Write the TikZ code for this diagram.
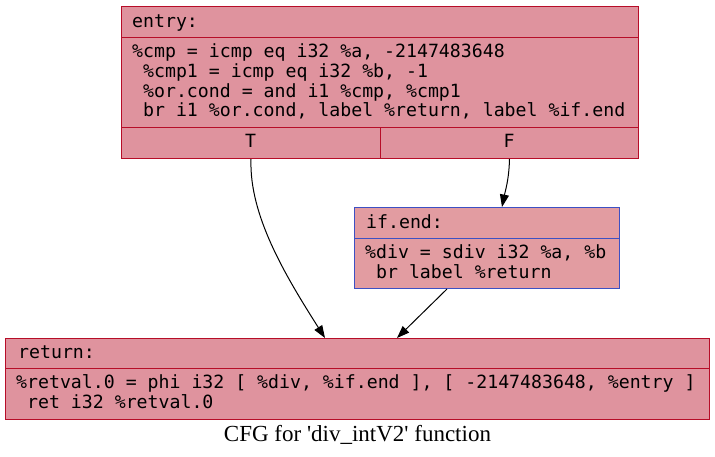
\documentclass[tikz,border=0pt]{standalone}
\usepackage{fontspec}
\setmainfont{Liberation Serif}
\newfontfamily\llvmfont{DejaVu Sans Mono}
\usetikzlibrary{arrows.meta, positioning}
\definecolor{hotfill}{RGB}{223,147,158}
\definecolor{warmfill}{RGB}{226,156,161}
\definecolor{hotline}{HTML}{B70D28}
\definecolor{coolline}{HTML}{3D50C3}
\newcommand{\lsp}{\hphantom{0}}

\tikzset{
  cell/.style={draw, anchor=north west, inner sep=0pt, line width=1pt},
  hotcell/.style={cell, draw=hotline, fill=hotfill},
  warmcell/.style={cell, draw=coolline, fill=warmfill},
  code/.style={font=\llvmfont\fontsize{18.2}{19.7}\selectfont, inner sep=0pt, anchor=base west, align=left},
  flow/.style={-{Triangle[length=12.5pt,width=9pt]}, line width=1pt},
}

\begin{document}
\begin{tikzpicture}[x=1pt, y=-1pt]
\useasboundingbox (0,0) rectangle (715,456);

% entry block
\node[hotcell, minimum width=517pt, minimum height=31pt] (entryhd) at (121,6) {};
\node[hotcell, minimum width=517pt, minimum height=90pt] (entrybd) at (121,37) {};
\node[hotcell, minimum width=259pt, minimum height=31pt] (entryT) at (121,127) {};
\node[hotcell, minimum width=258pt, minimum height=31pt] (entryF) at (380,127) {};
\node[code] (entrylb) at (132,27) {entry:};
% base of a multi-line node = last line
\node[code] (entrytx) at (132,116.8) {\%cmp = icmp eq i32 \%a, -2147483648\\
  \lsp\%cmp1 = icmp eq i32 \%b, -1\\
  \lsp\%or.cond = and i1 \%cmp, \%cmp1\\
  \lsp br i1 \%or.cond, label \%return, label \%if.end};
\node[code, anchor=base] (tlb) at (250.5,147) {T};
\node[code, anchor=base] (flb) at (509,147) {F};

% if.end block
\node[warmcell, minimum width=265pt, minimum height=31pt] (ifhd) at (354,207) {};
\node[warmcell, minimum width=265pt, minimum height=50pt] (ifbd) at (354,238) {};
\node[code] (iflb) at (366,228) {if.end:};
\node[code] (iftx) at (365,278.4) {\%div = sdiv i32 \%a, \%b\\
  \lsp br label \%return};

% return block
\node[hotcell, minimum width=704pt, minimum height=30pt] (rethd) at (5,338) {};
\node[hotcell, minimum width=704pt, minimum height=51pt] (retbd) at (5,368) {};
\node[code] (retlb) at (18,358) {return:};
\node[code] (rettx) at (16,408.4) {\%retval.0 = phi i32 [ \%div, \%if.end ], [ -2147483648, \%entry ]\\
  \lsp ret i32 \%retval.0};

% edges
\draw[flow] (entryT.south) .. controls (249,215) and (285,275) .. ([xshift=320pt]rethd.north west);
\draw[flow] (entryF.south) .. controls (509,180) and (505,192) .. ([xshift=148pt]ifhd.north west);
\draw[flow] ([xshift=93pt]ifbd.south west) -- ([xshift=392pt]rethd.north west);

\node[font=\fontsize{23}{26}\selectfont, anchor=base] (caption) at (357.5,441.5)
  {CFG for \textquotesingle div\_intV2\textquotesingle{} function};
\end{tikzpicture}
\end{document}
